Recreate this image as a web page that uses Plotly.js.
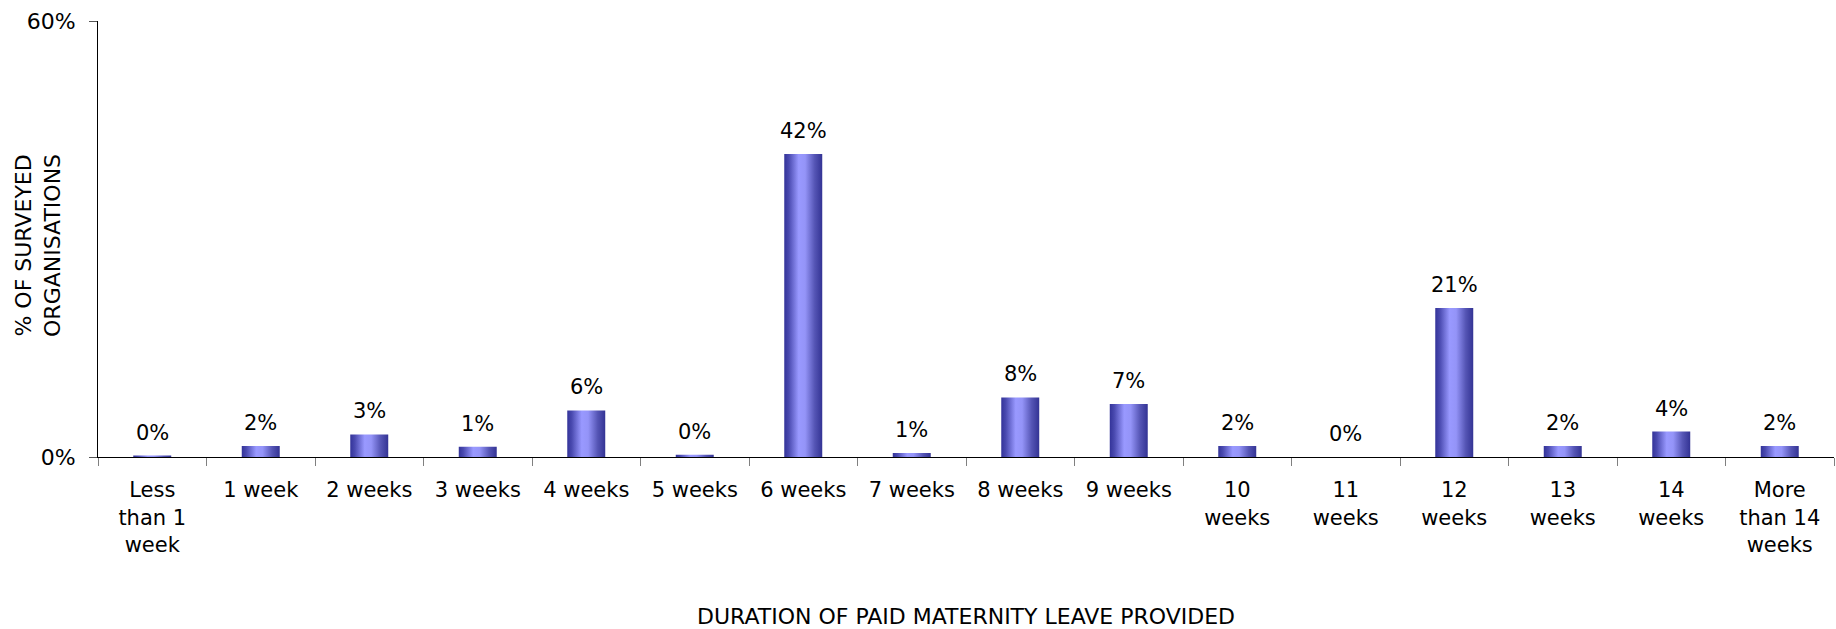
<!DOCTYPE html>
<html>
<head>
<meta charset="utf-8">
<script src="https://cdn.plot.ly/plotly-3.0.1.min.js"></script>
<style>
  html, body { margin: 0; padding: 0; background: #fff; }
  #chart { width: 1836px; height: 629px; }
</style>
</head>
<body>
<div id="chart"></div>
<script>
// ---- data ----
var categories = [
  "Less<br>than 1<br>week", "1 week", "2 weeks", "3 weeks", "4 weeks", "5 weeks",
  "6 weeks", "7 weeks", "8 weeks", "9 weeks", "10<br>weeks", "11<br>weeks",
  "12<br>weeks", "13<br>weeks", "14<br>weeks", "More<br>than 14<br>weeks"
];
var values = [0.2, 1.5, 3.1, 1.4, 6.4, 0.3, 41.7, 0.55, 8.2, 7.3, 1.5, 0, 20.5, 1.5, 3.5, 1.5];
var valueLabels = ["0%", "2%", "3%", "1%", "6%", "0%", "42%", "1%", "8%", "7%", "2%", "0%", "21%", "2%", "4%", "2%"];
var yTickVals = [0, 60];
var yTickText = ["0%", "60%"];
var xTitle = "DURATION OF PAID MATERNITY LEAVE PROVIDED";
var yTitle = "% OF SURVEYED<br>ORGANISATIONS";

var FONT = "DejaVu Sans, Verdana, sans-serif";

var trace = {
  type: "bar",
  x: categories,
  y: values,
  width: 0.35,
  marker: { color: "#6666cc", line: { width: 0 } },
  hoverinfo: "skip"
};

var annotations = categories.map(function (c, i) {
  return {
    x: c, y: values[i], xref: "x", yref: "y",
    text: valueLabels[i], showarrow: false,
    yanchor: "bottom", xanchor: "center", yshift: 9,
    font: { family: FONT, size: 21, color: "#000" }
  };
});
annotations.push({
  xref: "paper", yref: "paper", x: 0, y: 0.484, xshift: -60,
  xanchor: "center", yanchor: "middle", textangle: -90,
  text: yTitle, showarrow: false,
  font: { family: FONT, size: 22, color: "#000" }
});

var layout = {
  width: 1836, height: 629,
  margin: { l: 98, r: 2, t: 21, b: 172 },
  paper_bgcolor: "#fff", plot_bgcolor: "#fff",
  showlegend: false,
  font: { family: FONT, size: 21, color: "#000" },
  bargap: 0.65,
  xaxis: {
    type: "category",
    tickson: "boundaries",
    ticks: "outside", ticklen: 8, tickcolor: "#808080", tickwidth: 1,
    showline: true, linecolor: "#000", linewidth: 1,
    showgrid: false, zeroline: false,
    tickfont: { family: FONT, size: 21, color: "#000" },
    tickangle: 0,
    ticklabelstandoff: 14,
    automargin: false,
    title: { text: xTitle, font: { family: FONT, size: 22, color: "#000" }, standoff: 63 }
  },
  yaxis: {
    range: [0, 60],
    tickvals: yTickVals, ticktext: yTickText,
    ticks: "outside", ticklen: 8, tickcolor: "#555", tickwidth: 1,
    showline: true, linecolor: "#000", linewidth: 1,
    showgrid: false, zeroline: false,
    tickfont: { family: FONT, size: 22, color: "#000" },
    ticklabelstandoff: 9,
    automargin: false
  },
  annotations: annotations
};

function applyGradient() {
  var svg = document.querySelector("#chart .main-svg");
  if (!svg) return;
  var ns = "http://www.w3.org/2000/svg";
  var defs = svg.querySelector("defs");
  if (!defs) { defs = document.createElementNS(ns, "defs"); svg.insertBefore(defs, svg.firstChild); }
  if (!document.getElementById("barGrad")) {
    var g = document.createElementNS(ns, "linearGradient");
    g.setAttribute("id", "barGrad");
    g.setAttribute("x1", "0"); g.setAttribute("x2", "1");
    g.setAttribute("y1", "0"); g.setAttribute("y2", "0");
    var stops = [[0, "#333399"], [0.12, "#4a4ab0"], [0.38, "#9999ff"], [0.55, "#9494f8"], [0.8, "#5555b5"], [1, "#333394"]];
    stops.forEach(function (s) {
      var st = document.createElementNS(ns, "stop");
      st.setAttribute("offset", s[0]);
      st.setAttribute("stop-color", s[1]);
      g.appendChild(st);
    });
    defs.appendChild(g);
  }
  document.querySelectorAll("#chart .bars .point path").forEach(function (p) {
    p.style.fill = "url(#barGrad)";
  });
}

var gd = document.getElementById("chart");
Plotly.newPlot(gd, [trace], layout, { staticPlot: true, displayModeBar: false }).then(function () {
  applyGradient();
  gd.on && gd.on("plotly_afterplot", applyGradient);
});
</script>
</body>
</html>
